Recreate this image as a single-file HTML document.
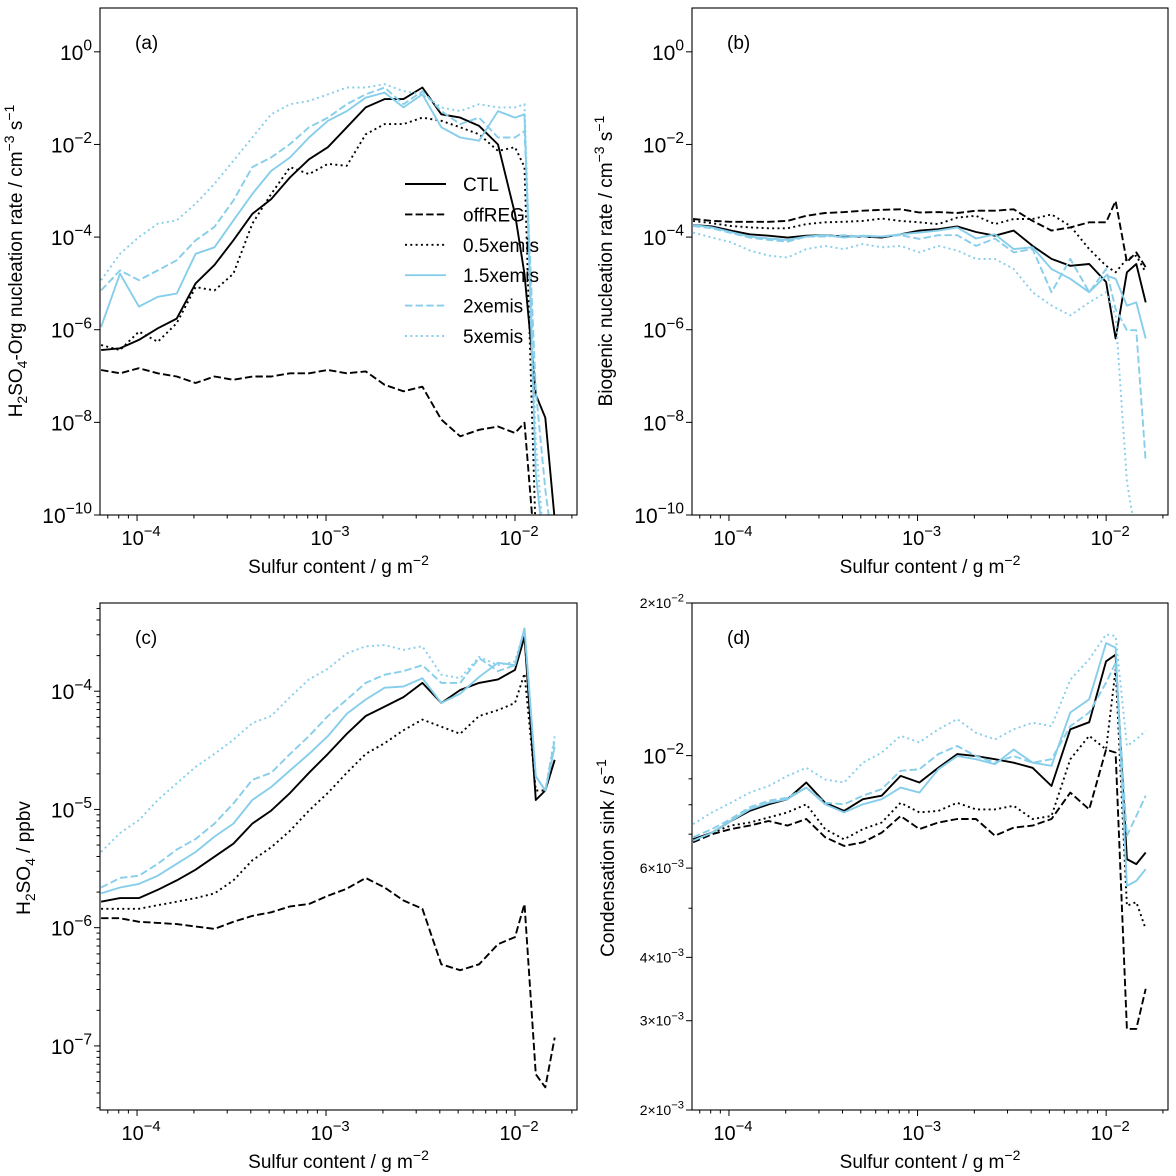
<!DOCTYPE html>
<html><head><meta charset="utf-8"><style>
html,body{margin:0;padding:0;background:#fff;}
svg{display:block;font-family:"Liberation Sans","DejaVu Sans",sans-serif;}
</style></head><body>
<svg id="fig" width="1176" height="1176" viewBox="0 0 1176 1176" xmlns="http://www.w3.org/2000/svg"></svg>
<script>
// x categories: log10 of sulfur content (g m^-2)
const xLog10 = [-4.19,-4.09,-3.99,-3.89,-3.79,-3.69,-3.59,-3.49,-3.39,-3.29,-3.19,-3.09,-2.99,-2.89,-2.79,-2.69,-2.59,-2.49,-2.39,-2.29,-2.19,-2.09,-2.0,-1.95,-1.89,-1.84,-1.79];
const seriesNames = ["CTL","offREG","0.5xemis","1.5xemis","2xemis","5xemis"];

// Panel (a): log10 H2SO4-Org nucleation rate
const aCTL  = [-6.44,-6.40,-6.22,-5.97,-5.76,-5.0,-4.6,-4.07,-3.5,-3.18,-2.71,-2.32,-2.06,-1.63,-1.2,-1.02,-1.02,-0.77,-1.35,-1.42,-1.6,-2.0,-3.5,-4.8,-7.4,-7.9,-10.1];
const aOFF  = [-6.87,-6.94,-6.83,-6.94,-7.01,-7.15,-7.01,-7.08,-7.01,-7.01,-6.94,-6.94,-6.87,-6.94,-6.90,-7.19,-7.33,-7.23,-7.94,-8.30,-8.16,-8.09,-8.23,-8.01,-11,-11,-11];
const aHALF = [-6.33,-6.44,-6.04,-6.26,-5.86,-5.08,-5.15,-4.79,-3.71,-3.07,-2.49,-2.64,-2.42,-2.46,-1.78,-1.56,-1.56,-1.42,-1.49,-1.63,-1.78,-2.14,-2.06,-2.49,-10.5,-11,-11];
const aX15  = [-5.94,-4.79,-5.5,-5.29,-5.22,-4.36,-4.22,-3.64,-3.07,-2.57,-2.28,-1.85,-1.49,-1.28,-0.99,-0.88,-1.2,-0.92,-1.63,-1.85,-1.92,-1.28,-1.42,-1.35,-9.1,-11,-11];
const aX2   = [-5.15,-4.72,-4.93,-4.72,-4.5,-4.07,-3.78,-3.21,-2.49,-2.28,-1.99,-1.63,-1.42,-1.13,-0.92,-0.77,-1.13,-0.85,-1.28,-1.56,-1.42,-1.85,-1.85,-1.71,-7.3,-9.45,-11];
const aX5   = [-4.93,-4.36,-4.0,-3.71,-3.64,-3.28,-2.85,-2.35,-1.85,-1.35,-1.13,-1.06,-0.92,-0.77,-0.77,-0.70,-0.85,-0.92,-1.2,-1.28,-1.13,-1.2,-1.2,-1.13,-8.4,-11,-11];

// Panel (b): log10 biogenic nucleation rate
const bCTL  = [-3.74,-3.77,-3.86,-3.94,-3.97,-4.01,-3.97,-3.96,-3.99,-3.99,-4.01,-3.94,-3.86,-3.83,-3.77,-3.89,-3.97,-3.86,-4.19,-4.47,-4.62,-4.58,-4.97,-6.19,-4.76,-4.58,-5.41];
const bOFF  = [-3.61,-3.65,-3.67,-3.67,-3.67,-3.65,-3.54,-3.48,-3.46,-3.43,-3.41,-3.40,-3.47,-3.46,-3.48,-3.43,-3.43,-3.40,-3.65,-3.86,-3.79,-3.68,-3.68,-3.22,-4.54,-4.33,-4.65];
const bHALF = [-3.65,-3.70,-3.76,-3.79,-3.81,-3.81,-3.72,-3.68,-3.67,-3.65,-3.60,-3.65,-3.68,-3.72,-3.58,-3.54,-3.72,-3.61,-3.61,-3.51,-3.76,-4.26,-4.62,-4.76,-4.47,-4.40,-4.76];
const bX15  = [-3.74,-3.79,-3.89,-3.99,-4.03,-4.06,-3.99,-3.96,-4.01,-3.97,-3.99,-3.94,-3.90,-3.86,-3.79,-4.03,-3.94,-4.26,-4.22,-4.69,-4.90,-5.19,-4.83,-4.90,-5.48,-5.41,-6.19];
const bX2   = [-3.76,-3.81,-3.91,-4.01,-4.06,-4.10,-3.99,-3.99,-3.96,-3.99,-3.99,-3.96,-4.04,-3.96,-3.96,-4.19,-4.03,-4.33,-4.26,-5.19,-4.47,-5.19,-4.69,-5.55,-6.01,-6.01,-8.85];
const bX5   = [-3.90,-4.01,-4.11,-4.29,-4.40,-4.44,-4.26,-4.19,-4.26,-4.15,-4.22,-4.19,-4.33,-4.19,-4.29,-4.47,-4.47,-4.69,-5.19,-5.48,-5.69,-5.41,-5.19,-5.69,-9.28,-10.5,-11];

// Panel (c): log10 H2SO4 (ppbv)
const cCTL  = [-5.78,-5.75,-5.75,-5.68,-5.60,-5.51,-5.40,-5.29,-5.12,-5.01,-4.86,-4.69,-4.53,-4.36,-4.21,-4.13,-4.05,-3.93,-4.10,-3.99,-3.93,-3.90,-3.82,-3.54,-4.92,-4.84,-4.58];
const cOFF  = [-5.92,-5.92,-5.95,-5.96,-5.97,-5.99,-6.01,-5.95,-5.90,-5.87,-5.82,-5.80,-5.73,-5.67,-5.58,-5.66,-5.77,-5.84,-6.31,-6.36,-6.31,-6.14,-6.08,-5.80,-7.24,-7.35,-6.93];
const cHALF = [-5.84,-5.84,-5.84,-5.81,-5.78,-5.75,-5.71,-5.60,-5.43,-5.32,-5.18,-5.01,-4.86,-4.69,-4.53,-4.44,-4.33,-4.24,-4.30,-4.36,-4.21,-4.16,-4.10,-3.85,-4.84,-4.84,-4.58];
const cX15  = [-5.71,-5.66,-5.63,-5.56,-5.46,-5.36,-5.23,-5.12,-4.92,-4.81,-4.67,-4.53,-4.38,-4.19,-4.07,-3.97,-3.96,-3.89,-4.10,-4.02,-3.88,-3.76,-3.78,-3.47,-4.72,-4.84,-4.47];
const cX2   = [-5.66,-5.58,-5.56,-5.46,-5.34,-5.25,-5.12,-4.95,-4.75,-4.69,-4.53,-4.38,-4.21,-4.07,-3.93,-3.86,-3.83,-3.78,-3.93,-3.93,-3.72,-3.83,-3.78,-3.47,-4.72,-4.84,-4.41];
const cX5   = [-5.36,-5.20,-5.09,-4.92,-4.78,-4.64,-4.53,-4.41,-4.27,-4.21,-4.05,-3.90,-3.81,-3.68,-3.62,-3.61,-3.65,-3.62,-3.86,-3.89,-3.71,-3.78,-3.75,-3.47,-4.72,-4.84,-4.38];

// Panel (d): log10 condensation sink (s^-1)
const dCTL  = [-2.165,-2.152,-2.129,-2.109,-2.096,-2.086,-2.053,-2.093,-2.109,-2.086,-2.079,-2.040,-2.053,-2.024,-1.997,-2.001,-2.007,-2.014,-2.024,-2.060,-1.948,-1.934,-1.814,-1.801,-2.204,-2.214,-2.191];
const dOFF  = [-2.171,-2.155,-2.145,-2.138,-2.129,-2.138,-2.125,-2.161,-2.178,-2.171,-2.152,-2.119,-2.145,-2.132,-2.125,-2.125,-2.158,-2.142,-2.138,-2.125,-2.073,-2.106,-1.988,-1.994,-2.539,-2.539,-2.460];
const dHALF = [-2.168,-2.152,-2.138,-2.132,-2.122,-2.112,-2.096,-2.145,-2.165,-2.145,-2.132,-2.093,-2.112,-2.109,-2.093,-2.106,-2.106,-2.099,-2.125,-2.119,-2.007,-1.961,-1.988,-1.830,-2.296,-2.289,-2.342];
const dX15  = [-2.168,-2.152,-2.129,-2.106,-2.093,-2.086,-2.063,-2.096,-2.112,-2.096,-2.086,-2.063,-2.073,-2.027,-2.001,-2.007,-2.017,-1.988,-2.014,-2.020,-1.915,-1.889,-1.778,-1.787,-2.257,-2.247,-2.224];
const dX2   = [-2.161,-2.145,-2.125,-2.102,-2.089,-2.083,-2.063,-2.093,-2.096,-2.079,-2.066,-2.030,-2.027,-1.997,-1.981,-2.001,-2.014,-2.001,-2.014,-2.007,-1.942,-1.915,-1.856,-1.817,-2.158,-2.119,-2.079];
const dX5   = [-2.135,-2.112,-2.093,-2.073,-2.060,-2.040,-2.024,-2.047,-2.053,-2.014,-1.994,-1.961,-1.974,-1.948,-1.928,-1.955,-1.968,-1.948,-1.935,-1.942,-1.850,-1.810,-1.761,-1.764,-1.981,-1.968,-1.951];

const NS = "http://www.w3.org/2000/svg";
const svg = document.getElementById("fig");
function mk(tag, attrs, parent){ const e=document.createElementNS(NS,tag); for(const k in attrs) e.setAttribute(k,attrs[k]); (parent||svg).appendChild(e); return e; }

const BLUE = "#87ceeb";
const styles = [
  {c:"#000", d:""},
  {c:"#000", d:"7.4,3.2"},
  {c:"#000", d:"2,3.3"},
  {c:BLUE, d:""},
  {c:BLUE, d:"7.4,3.2"},
  {c:BLUE, d:"2,3.3"}
];

const panels = [
  {id:"a", x0:100, x1:577, y0:8, y1:515, ymin:-10, ymax:0.946, data:[aCTL,aOFF,aHALF,aX15,aX2,aX5]},
  {id:"b", x0:692, x1:1168, y0:8, y1:515, ymin:-10, ymax:0.946, data:[bCTL,bOFF,bHALF,bX15,bX2,bX5]},
  {id:"c", x0:100, x1:577, y0:603, y1:1110, ymin:-7.542, ymax:-3.254, data:[cCTL,cOFF,cHALF,cX15,cX2,cX5]},
  {id:"d", x0:692, x1:1168, y0:603, y1:1110, ymin:Math.log10(2e-3), ymax:Math.log10(2e-2), data:[dCTL,dOFF,dHALF,dX15,dX2,dX5]}
];
const XMIN=-4.196, XMAX=-1.672;

function supText(parent, x, y, base, sup, size, anchor, supScale){
  const t = mk("text",{x:x,y:y,"font-size":size,"text-anchor":anchor||"end",fill:"#000"},parent);
  
  
  const s1 = mk("tspan",{},t); s1.textContent = base;
  const s2 = mk("tspan",{dy:-size*0.45,"font-size":size*(supScale||0.74)},t); s2.textContent = sup;
  return t;
}

panels.forEach(p=>{
  const g = mk("g",{});
  
  
  const sx = v => p.x0 + (v - XMIN)/(XMAX - XMIN)*(p.x1 - p.x0);
  const sy = v => p.y1 - (v - p.ymin)/(p.ymax - p.ymin)*(p.y1 - p.y0);
  const cp = mk("clipPath",{id:"clip"+p.id},g);
  mk("rect",{x:p.x0,y:p.y0,width:p.x1-p.x0,height:p.y1-p.y0},cp);

  const lg = mk("g",{"clip-path":"url(#clip"+p.id+")"},g);
  p.data.forEach((arr,i)=>{
    const pts = arr.map((v,j)=>sx(xLog10[j]).toFixed(1)+","+sy(v).toFixed(1)).join(" ");
    const pl = mk("polyline",{points:pts,fill:"none",stroke:styles[i].c,"stroke-width":1.9,"stroke-dasharray":styles[i].d,"stroke-linejoin":"round"},lg);
    
    
  });

  const fr = mk("rect",{x:p.x0,y:p.y0,width:p.x1-p.x0,height:p.y1-p.y0,fill:"none",stroke:"#000","stroke-width":1.1},g);
  
  

  for(let dec=-5; dec<=-1; dec++){
    for(let m=1;m<=9;m++){
      const v = dec + Math.log10(m);
      if(v<XMIN||v>XMAX) continue;
      const X = sx(v);
      mk("line",{x1:X,x2:X,y1:p.y1,y2:p.y1+(m===1?6:3.5),stroke:"#000","stroke-width":1},g);
      if(m===1){ supText(g, X+4, p.y1+30, "10", "\u2212"+(-dec), 20, "middle"); }
    }
  }
  const xl = mk("text",{x:(p.x0+p.x1)/2,y:p.y1+58,"font-size":19,"text-anchor":"middle"},g);
  
  
  xl.innerHTML = 'Sulfur content / g m<tspan dy="-8" font-size="14">\u22122</tspan>';

  if(p.id==="a"||p.id==="b"){
    for(let d=-10; d<=0; d+=2){
      const Y=sy(d);
      mk("line",{x1:p.x0,x2:p.x0-6,y1:Y,y2:Y,stroke:"#000","stroke-width":1},g);
      supText(g, p.x0-8, Y+8, "10", d===0?"0":"\u2212"+(-d), 21, "end");
    }
  } else if(p.id==="c"){
    for(let dec=-8; dec<=-4; dec++){
      for(let m=1;m<=9;m++){
        const v=dec+Math.log10(m);
        if(v<p.ymin||v>p.ymax) continue;
        const Y=sy(v);
        mk("line",{x1:p.x0,x2:p.x0-(m===1?6:3.5),y1:Y,y2:Y,stroke:"#000","stroke-width":1},g);
        if(m===1) supText(g, p.x0-8, Y+8, "10", "\u2212"+(-dec), 21, "end");
      }
    }
  } else {
    const labeled = {2:true,3:true,4:true,6:true};
    for(let m=2;m<=9;m++){
      const Y=sy(-3+Math.log10(m));
      mk("line",{x1:p.x0,x2:p.x0-(labeled[m]?6:3.5),y1:Y,y2:Y,stroke:"#000","stroke-width":1},g);
      if(labeled[m]) supText(g, p.x0-8, Y+5, m+"\u00d710", "\u22123", 14, "end", 0.8);
    }
    [[-2,true],[Math.log10(2e-2),false]].forEach(([v,big])=>{
      const Y=sy(v);
      mk("line",{x1:p.x0,x2:p.x0-6,y1:Y,y2:Y,stroke:"#000","stroke-width":1},g);
      if(big) supText(g, p.x0-8, Y+8, "10", "\u22122", 21, "end");
      else supText(g, p.x0-8, Y+5, "2\u00d710", "\u22122", 14, "end", 0.8);
    });
  }

  const pl = mk("text",{x:p.x0+35,y:p.y0+41,"font-size":19},g);
  
  
  pl.textContent = "("+p.id+")";
});

function ytitle(x,y,html,name){
  const t = mk("text",{x:0,y:0,"font-size":19,"text-anchor":"middle",transform:"translate("+x+","+y+") rotate(-90)"});
  
  
  t.innerHTML = html;
}
ytitle(22,261,'H<tspan dy="5" font-size="14">2</tspan><tspan dy="-5">SO</tspan><tspan dy="5" font-size="14">4</tspan><tspan dy="-5">-Org nucleation rate / cm</tspan><tspan dy="-8" font-size="14">\u22123</tspan><tspan dy="8"> s</tspan><tspan dy="-8" font-size="14">\u22121</tspan>','y-axis-title-a');
ytitle(612,261,'Biogenic nucleation rate / cm<tspan dy="-8" font-size="14">\u22123</tspan><tspan dy="8"> s</tspan><tspan dy="-8" font-size="14">\u22121</tspan>','y-axis-title-b');
ytitle(30,858,'H<tspan dy="5" font-size="14">2</tspan><tspan dy="-5">SO</tspan><tspan dy="5" font-size="14">4</tspan><tspan dy="-5"> / ppbv</tspan>','y-axis-title-c');
ytitle(614,858,'Condensation sink / s<tspan dy="-8" font-size="14">\u22121</tspan>','y-axis-title-d');

const leg = mk("g",{});


seriesNames.forEach((n,i)=>{
  const y = 184 + i*30.4;
  const ln = mk("line",{x1:405,x2:446,y1:y,y2:y,stroke:styles[i].c,"stroke-width":1.9,"stroke-dasharray":styles[i].d},leg);
  
  
  const t = mk("text",{x:463,y:y+7,"font-size":19},leg);
  
  
  t.textContent = n;
});
</script>
</body></html>
